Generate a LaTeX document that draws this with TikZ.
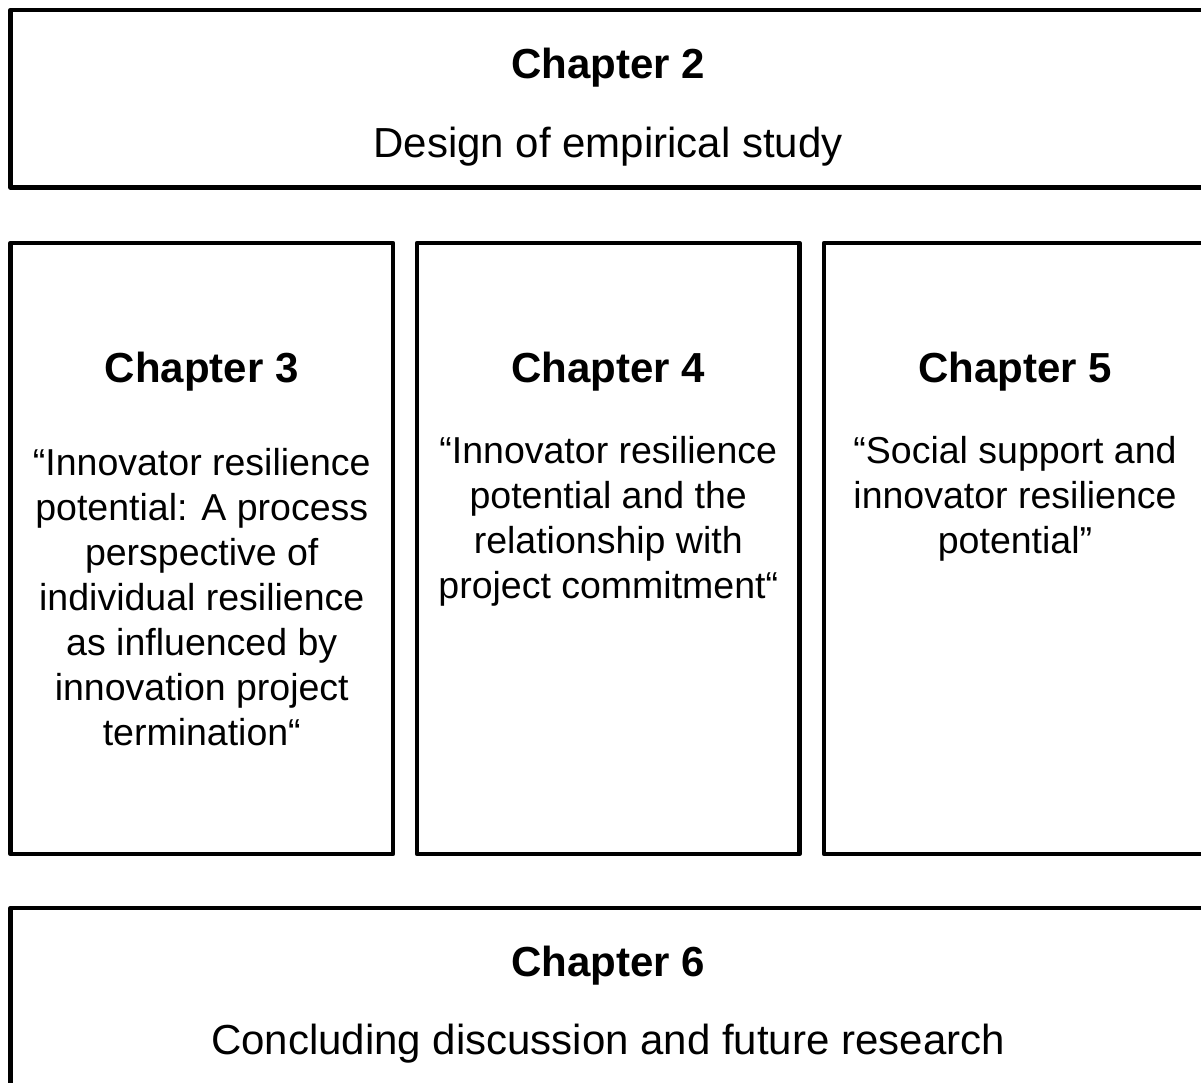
\documentclass[tikz,border=0pt]{standalone}
\usepackage{fontspec}
\setmainfont{Liberation Sans}
\usepackage{tikz}

\tikzset{
  chapbox/.style={draw=black, line width=4.5pt, line join=round, inner sep=0pt},
  chaphead/.style={anchor=base, font=\fontsize{42}{45}\selectfont\bfseries},
  chapwide/.style={anchor=base, font=\fontsize{42}{45}\selectfont},
  chaptext/.style={anchor=base, align=center, font=\fontsize{37.5}{45}\selectfont}
}

\begin{document}
\begin{tikzpicture}[x=1pt, y=-1pt]
\useasboundingbox (0,0) rectangle (1201,1082);
\clip (0,0) rectangle (1201,1082);

\node[chapbox, minimum width=1195pt, minimum height=177.5pt] (box2) at (608,98.75) {};
\node[chaphead] (head2) at (608,78) {Chapter 2};
\node[chapwide] (text2) at (608,157) {Design of empirical study};

% three columns, text anchored at the last baseline
\node[chapbox, minimum width=382.5pt, minimum height=611pt] (box3) at (201.75,548.5) {};
\node[chaphead] (head3) at (201.75,382) {Chapter 3};
\node[chaptext] (text3) at (201.75,745) {“Innovator resilience\\potential: A process\\perspective of\\individual resilience\\as influenced by\\innovation project\\termination“};

\node[chapbox, minimum width=382.5pt, minimum height=611pt] (box4) at (608.25,548.5) {};
\node[chaphead] (head4) at (608.25,382) {Chapter 4};
\node[chaptext] (text4) at (608.25,598) {“Innovator resilience\\potential and the\\relationship with\\project commitment“};

\node[chapbox, minimum width=382pt, minimum height=611pt] (box5) at (1015,548.5) {};
\node[chaphead] (head5) at (1015,382) {Chapter 5};
\node[chaptext] (text5) at (1015,553) {“Social support and\\innovator resilience\\potential”};

\node[chapbox, minimum width=1195pt, minimum height=300pt] (box6) at (608,1058) {};
\node[chaphead] (head6) at (608,976) {Chapter 6};
\node[chapwide] (text6) at (608,1054) {Concluding discussion and future research};
\end{tikzpicture}
\end{document}
